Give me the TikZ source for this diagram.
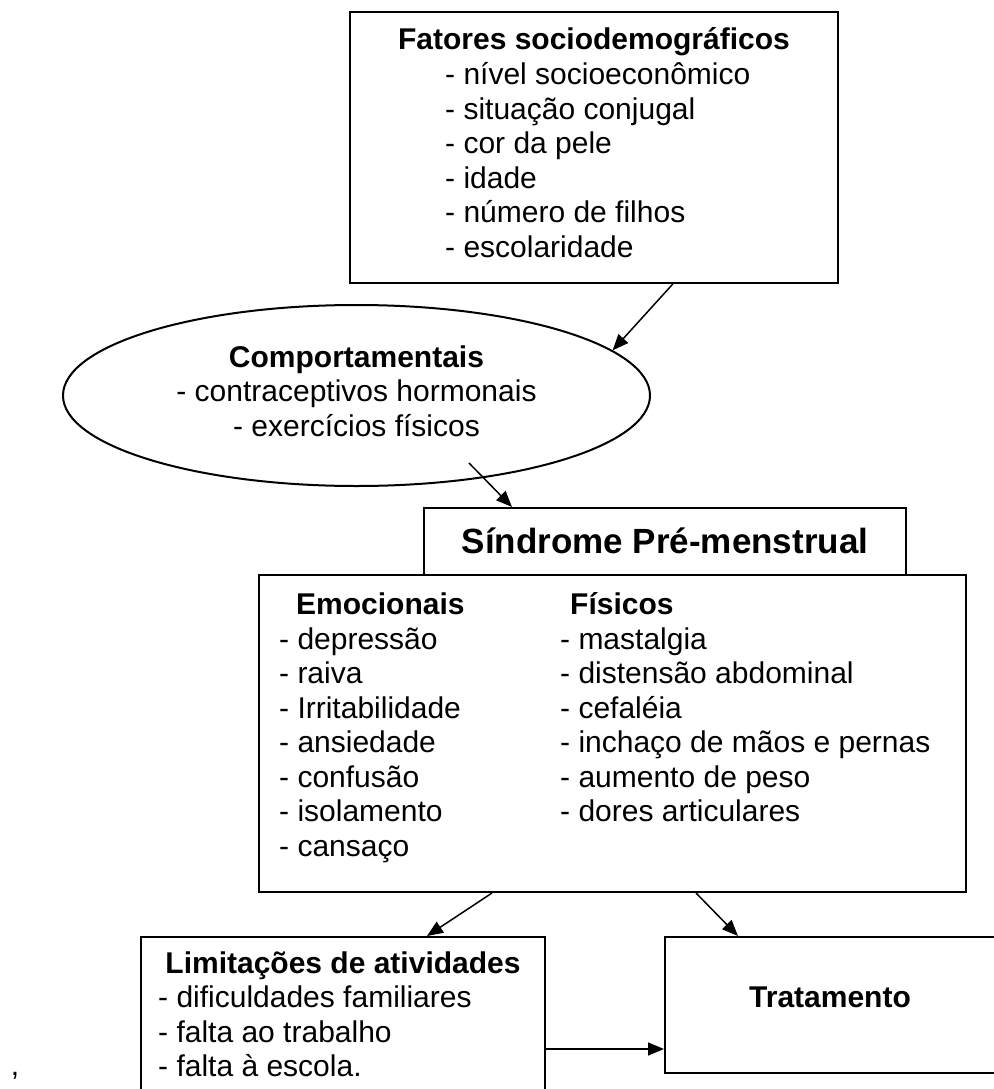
\documentclass[tikz,border=0pt]{standalone}
\usepackage{fontspec}
\setmainfont{Liberation Sans}
\usetikzlibrary{shapes.geometric,arrows.meta,calc}

\begin{document}
\begin{tikzpicture}[x=1pt,y=-1pt,>={Triangle[length=16pt,width=13pt]},
        caixa/.style={draw,line width=2pt,inner sep=0pt},
        texto/.style={inner sep=0pt,align=left,font=\fontsize{30}{34.5}\selectfont},
        seta/.style={->,line width=1.5pt}]
    \useasboundingbox (0,0) rectangle (993,1089);
    % caixas
    \node[caixa,minimum width=488,minimum height=271] (fatores) at (594,147.5) {};
    \node[caixa,ellipse,minimum width=587,minimum height=181] (comport) at (356.5,395.5) {};
    \node[caixa,minimum width=482,minimum height=67] (titulo) at (665,541.5) {};
    \node[caixa,minimum width=707,minimum height=317] (sintomas) at (612.5,733.5) {};
    \node[caixa,minimum width=404,minimum height=173] (limit) at (343,1023.5) {};
    \node[caixa,minimum width=335,minimum height=136] (trat) at (832.5,1005) {};
    % textos (base = ultima linha)
    \node[texto,anchor=base] (tfatores) at (594,50) {\textbf{Fatores sociodemográficos}};
    \node[texto,anchor=base west] (ifatores) at (445,257) {- nível socioeconômico\\- situação conjugal\\- cor da pele\\- idade\\- número de filhos\\- escolaridade};
    \node[texto,anchor=base,align=center] (tcomport) at (356.5,436) {\textbf{Comportamentais}\\- contraceptivos hormonais\\- exercícios físicos};
    \node[texto,anchor=base,font=\fontsize{35}{40}\selectfont\bfseries] (ttitulo) at (665,553) {Síndrome Pré-menstrual};
    \node[texto,anchor=base west] (temoc) at (296,614.5) {\textbf{Emocionais}};
    \node[texto,anchor=base west] (iemoc) at (279,856) {- depressão\\- raiva\\- Irritabilidade\\- ansiedade\\- confusão\\- isolamento\\- cansaço};
    \node[texto,anchor=base west] (tfis) at (570,614.5) {\textbf{Físicos}};
    \node[texto,anchor=base west] (ifis) at (560,821.5) {- mastalgia\\- distensão abdominal\\- cefaléia\\- inchaço de mãos e pernas\\- aumento de peso\\- dores articulares};
    \node[texto,anchor=base] (tlimit) at (343,973) {\textbf{Limitações de atividades}};
    \node[texto,anchor=base west] (ilimit) at (158,1076.5) {- dificuldades familiares\\- falta ao trabalho\\- falta à escola.};
    \node[texto,anchor=base] (ttrat) at (830,1007) {\textbf{Tratamento}};
    \node[texto,anchor=base] (virgula) at (15,1075) {,};
    % setas
    \coordinate (cauda) at (469,463);
    \coordinate (meio) at (600,1049);
    \draw[seta] (fatores.-60) -- (comport.10);
    \draw[seta] (cauda) -- ($(titulo.north west)+(89,0)$);
    \draw[seta] ($(sintomas.south)+(-120.5,0)$) -- ($(limit.north)+(84,0)$);
    \draw[seta] ($(sintomas.south)+(83.5,0)$) -- ($(trat.north)+(-94.5,0)$);
    \draw[seta] (limit.east |- meio) -- (trat.west |- meio);
\end{tikzpicture}
\end{document}
